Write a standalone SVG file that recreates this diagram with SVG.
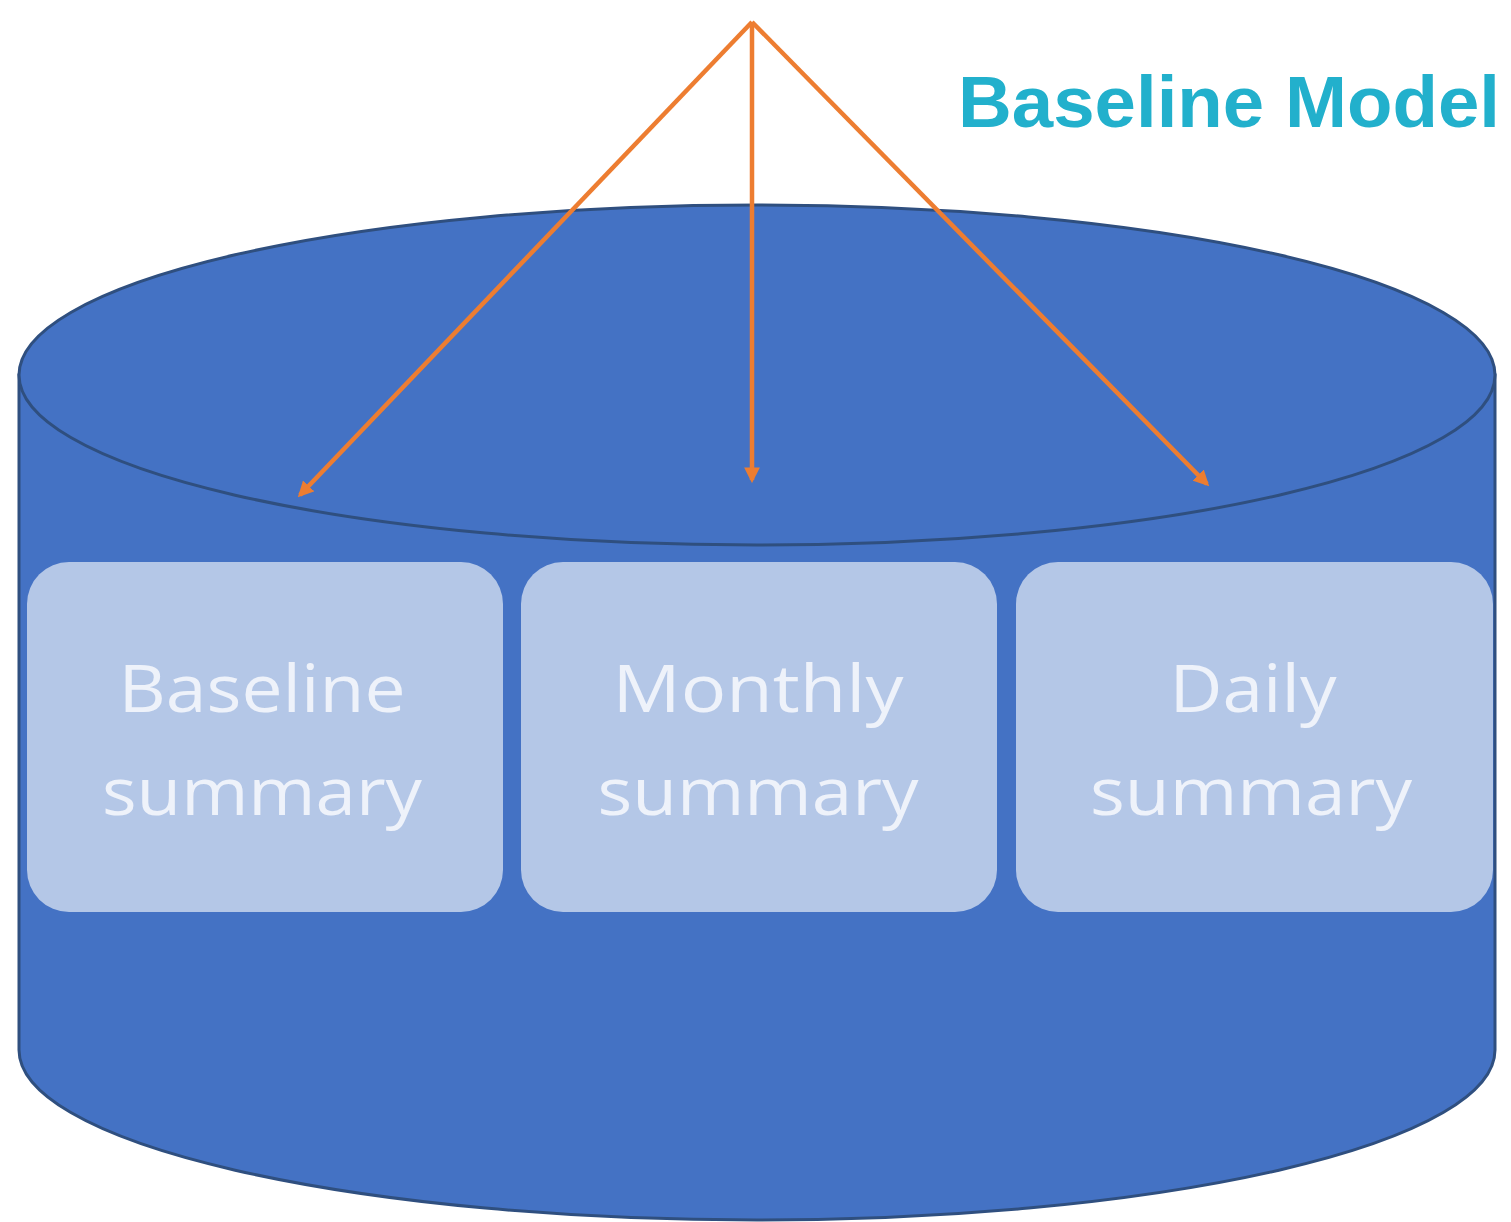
<svg xmlns="http://www.w3.org/2000/svg" width="1511" height="1222" viewBox="0 0 1511 1222">
<style>
.cyl{fill:#4472c4;stroke:#2f4f7f;stroke-width:3}
.box{fill:#b4c7e7;stroke:none}
.lbl{font-family:"Open Sans","Liberation Sans",Arial,sans-serif;font-size:66px;fill:#eef2fa;text-anchor:middle}
.title{font-family:"Liberation Sans",Arial,sans-serif;font-size:73px;font-weight:bold;fill:#22b0cc}
.arr{stroke:#ed7d31;stroke-width:4.5;fill:none;marker-end:url(#ah)}
</style>
<defs>
<marker id="ah" viewBox="0 0 10 10" refX="8" refY="5" markerWidth="3.5" markerHeight="3.5" orient="auto">
<path d="M0,0 L10,5 L0,10 Z" fill="#ed7d31"/>
</marker>
</defs>
<rect width="1511" height="1222" fill="#ffffff"/>
<g id="cylinder">
<path class="cyl" d="M19,375 L19,1050 A738,170 0 0 0 1495,1050 L1495,375 Z"/>
<ellipse class="cyl" cx="757" cy="375" rx="738" ry="170"/>
</g>
<g id="title"><text class="title" x="958" y="127" textLength="542" lengthAdjust="spacingAndGlyphs">Baseline Model</text></g>
<g id="baseline-summary">
<rect class="box" x="27" y="562" width="476" height="350" rx="42"/>
<text class="lbl" x="262" y="712" textLength="287" lengthAdjust="spacingAndGlyphs">Baseline</text>
<text class="lbl" x="262" y="815" textLength="320" lengthAdjust="spacingAndGlyphs">summary</text>
</g>
<g id="monthly-summary">
<rect class="box" x="521" y="562" width="476" height="350" rx="42"/>
<text class="lbl" x="758" y="712" textLength="291" lengthAdjust="spacingAndGlyphs">Monthly</text>
<text class="lbl" x="758" y="815" textLength="321" lengthAdjust="spacingAndGlyphs">summary</text>
</g>
<g id="daily-summary">
<rect class="box" x="1016" y="562" width="477" height="350" rx="42"/>
<text class="lbl" x="1253" y="712" textLength="167" lengthAdjust="spacingAndGlyphs">Daily</text>
<text class="lbl" x="1251" y="815" textLength="322" lengthAdjust="spacingAndGlyphs">summary</text>
</g>
<g id="connectors">
<line class="arr" x1="752" y1="22" x2="300" y2="495"/>
<line class="arr" x1="752" y1="22" x2="752" y2="480"/>
<line class="arr" x1="752" y1="22" x2="1207" y2="484"/>
</g>
</svg>
